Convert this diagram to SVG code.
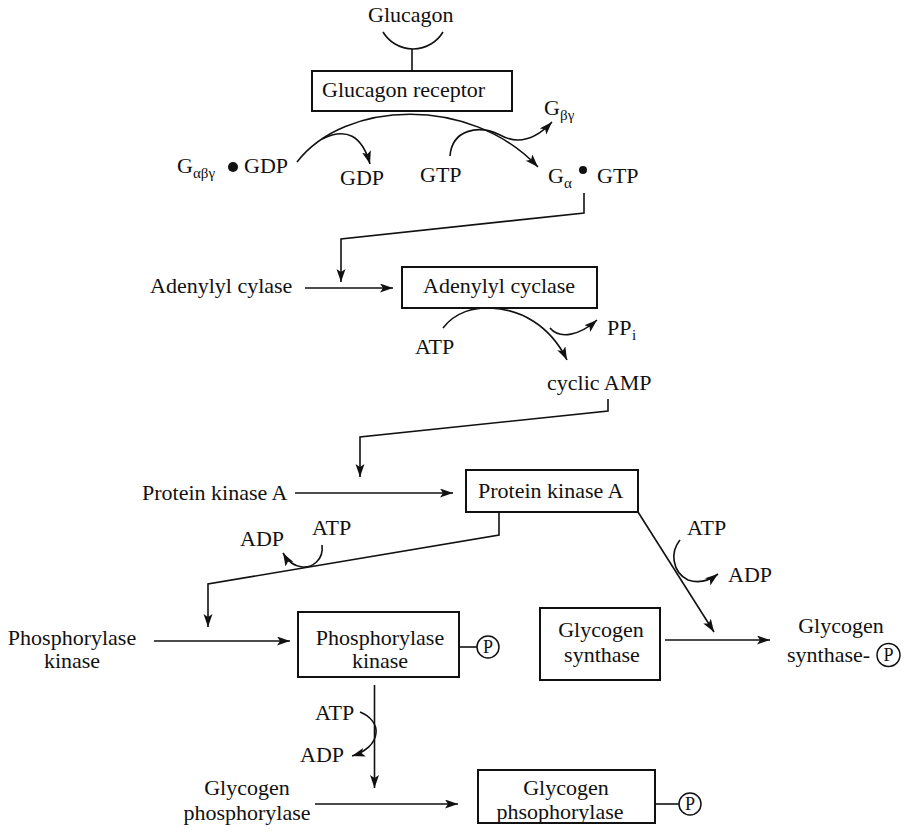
<svg xmlns="http://www.w3.org/2000/svg" width="909" height="835" viewBox="0 0 909 835">
<style>
text{font-family:"Liberation Serif","Times New Roman",serif;font-size:22px;fill:#111}
.sub{font-size:15px}
.mid{text-anchor:middle}
.box{fill:#fff;stroke:#111;stroke-width:2}
.ln{fill:none;stroke:#111;stroke-width:1.6}
.arr{fill:none;stroke:#111;stroke-width:1.6;marker-end:url(#ah)}
.pc{fill:#fff;stroke:#111;stroke-width:1.5}
.pt{font-size:18px;text-anchor:middle}
</style>
<defs>
<marker id="ah" markerUnits="userSpaceOnUse" markerWidth="14" markerHeight="10" refX="13" refY="4.5" orient="auto">
<path d="M0,0 L13,4.5 L0,9 L3,4.5 z" fill="#111"/>
</marker>
</defs>
<rect width="909" height="835" fill="#fff"/>

<g id="connectors">
<path class="ln" d="M383,32 A35,35 0 0 0 443,32"/>
<path class="ln" d="M412,49 V71"/>
<path class="arr" d="M297,162 C345,100 470,95 538,167"/>
<path class="arr" d="M322,139 Q358,121 370,164"/>
<path class="arr" d="M450,156 C452,130 478,124 500,135 C518,145 535,140 552,122"/>
<path class="arr" d="M584,193 V213 L341,239 V282"/>
<path class="arr" d="M305,288 H393"/>
<path class="arr" d="M443,328 C455,312 475,307 490,308 C520,309 550,325 567,360"/>
<path class="arr" d="M550,328 C560,340 580,335 597,320"/>
<path class="arr" d="M608,399 V411 L360,437 V477"/>
<path class="arr" d="M295,493 H453"/>
<path class="arr" d="M499,512 V535 L208,584 V627"/>
<path class="arr" d="M322,545 C324,560 312,568 302,567 C293,566 287,560 283,553"/>
<path class="arr" d="M638,512 L714,632"/>
<path class="arr" d="M680,540 C670,552 672,572 688,580 C700,584 710,580 718,574"/>
<path class="arr" d="M154,641 H290"/>
<path class="arr" d="M665,640 H770"/>
<path class="arr" d="M374.5,685 V788"/>
<path class="arr" d="M360,712 C370,716 377,724 376,733 C375,744 365,752 352,756"/>
<path class="arr" d="M315,804 H458"/>
<path class="ln" d="M459,647 H477"/>
<path class="ln" d="M655,804 H679"/>
</g>

<g id="glucagon"><text x="368" y="22">Glucagon</text></g>
<g id="glucagon-receptor">
<rect class="box" x="312" y="71" width="200" height="40"/>
<text x="322" y="97">Glucagon receptor</text>
</g>
<g id="g-abg-gdp">
<text x="177" y="173">G</text><text class="sub" x="193" y="178">αβγ</text>
<circle cx="233" cy="167" r="5" fill="#111"/>
<text x="244" y="173">GDP</text>
</g>
<g id="gdp"><text x="340" y="185">GDP</text></g>
<g id="gtp"><text x="420" y="182">GTP</text></g>
<g id="g-bg"><text x="544" y="115">G</text><text class="sub" x="560" y="120">βγ</text></g>
<g id="g-a-gtp">
<text x="548" y="183">G</text><text class="sub" x="564" y="188">α</text>
<circle cx="583" cy="170" r="4" fill="#111"/>
<text x="597" y="183">GTP</text>
</g>

<g id="adenylyl-cylase"><text x="150" y="293">Adenylyl cylase</text></g>
<g id="adenylyl-cyclase">
<rect class="box" x="402" y="267" width="195" height="41"/>
<text x="423" y="293">Adenylyl cyclase</text>
</g>
<g id="atp-1"><text x="415" y="354">ATP</text></g>
<g id="ppi"><text x="607" y="335">PP</text><text class="sub" x="632" y="340">i</text></g>
<g id="camp"><text x="547" y="390">cyclic AMP</text></g>

<g id="pka-inactive"><text x="142" y="500">Protein kinase A</text></g>
<g id="pka">
<rect class="box" x="466" y="470" width="172" height="42"/>
<text x="478" y="498">Protein kinase A</text>
</g>
<g id="adp-atp-left"><text x="240" y="546">ADP</text><text x="312" y="535">ATP</text></g>
<g id="atp-adp-right"><text x="687" y="535">ATP</text><text x="728" y="582">ADP</text></g>

<g id="phk-inactive"><text class="mid" x="72" y="645">Phosphorylase</text><text class="mid" x="72" y="668">kinase</text></g>
<g id="phk">
<rect class="box" x="298" y="612" width="161" height="65"/>
<text class="mid" x="380" y="645">Phosphorylase</text>
<text class="mid" x="380" y="668">kinase</text>
<circle class="pc" cx="488" cy="647" r="11"/><text class="pt" x="488" y="653">P</text>
</g>
<g id="glycogen-synthase">
<rect class="box" x="540" y="608" width="120" height="72"/>
<text class="mid" x="601" y="637">Glycogen</text>
<text class="mid" x="602" y="662">synthase</text>
</g>
<g id="glycogen-synthase-p">
<text class="mid" x="841" y="633">Glycogen</text>
<text x="787" y="662">synthase-</text>
<circle class="pc" cx="888.5" cy="655" r="11.5"/><text class="pt" x="888.5" y="661">P</text>
</g>
<g id="atp-adp-lower"><text x="315" y="720">ATP</text><text x="300" y="762">ADP</text></g>
<g id="gp-inactive"><text class="mid" x="247" y="795">Glycogen</text><text class="mid" x="247" y="820">phosphorylase</text></g>
<g id="glycogen-phosphorylase">
<rect class="box" x="478" y="770" width="177" height="53"/>
<text class="mid" x="566" y="795">Glycogen</text>
<text class="mid" x="560" y="819">phsophorylase</text>
<circle class="pc" cx="690" cy="804" r="11"/><text class="pt" x="690" y="810">P</text>
</g>
</svg>
